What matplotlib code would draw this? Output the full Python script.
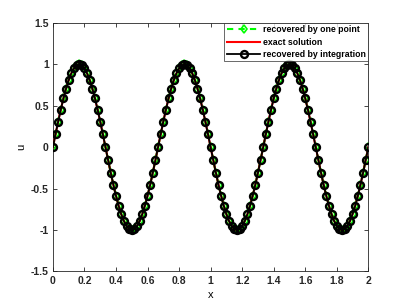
import matplotlib
matplotlib.use("Agg")
import matplotlib.pyplot as plt
import numpy as np

plt.rcParams["font.family"] = ["Liberation Sans", "DejaVu Sans"]
plt.rcParams["font.weight"] = "bold"

# grid: 121 nodes on [0, 2]
x = np.linspace(0.0, 2.0, 121)

# values (one period repeated three times)
u_exact = [
    0.000, 0.156, 0.309, 0.454, 0.588, 0.707, 0.809, 0.891, 0.951, 0.988,
    1.000, 0.988, 0.951, 0.891, 0.809, 0.707, 0.588, 0.454, 0.309, 0.156,
    0.000, -0.156, -0.309, -0.454, -0.588, -0.707, -0.809, -0.891, -0.951, -0.988,
    -1.000, -0.988, -0.951, -0.891, -0.809, -0.707, -0.588, -0.454, -0.309, -0.156,
    0.000, 0.156, 0.309, 0.454, 0.588, 0.707, 0.809, 0.891, 0.951, 0.988,
    1.000, 0.988, 0.951, 0.891, 0.809, 0.707, 0.588, 0.454, 0.309, 0.156,
    0.000, -0.156, -0.309, -0.454, -0.588, -0.707, -0.809, -0.891, -0.951, -0.988,
    -1.000, -0.988, -0.951, -0.891, -0.809, -0.707, -0.588, -0.454, -0.309, -0.156,
    0.000, 0.156, 0.309, 0.454, 0.588, 0.707, 0.809, 0.891, 0.951, 0.988,
    1.000, 0.988, 0.951, 0.891, 0.809, 0.707, 0.588, 0.454, 0.309, 0.156,
    0.000, -0.156, -0.309, -0.454, -0.588, -0.707, -0.809, -0.891, -0.951, -0.988,
    -1.000, -0.988, -0.951, -0.891, -0.809, -0.707, -0.588, -0.454, -0.309, -0.156,
    0.000,
]
u_one_point = list(u_exact)
u_integration = list(u_exact)

x_ticks = [0, 0.2, 0.4, 0.6, 0.8, 1, 1.2, 1.4, 1.6, 1.8, 2]
x_tick_labels = ["0", "0.2", "0.4", "0.6", "0.8", "1", "1.2", "1.4", "1.6", "1.8", "2"]
y_ticks = [-1.5, -1, -0.5, 0, 0.5, 1, 1.5]
y_tick_labels = ["-1.5", "-1", "-0.5", "0", "0.5", "1", "1.5"]

fig = plt.figure(figsize=(4.07, 3.05), dpi=100)
ax = fig.add_axes([0.13, 0.11, 0.775, 0.815])

ax.plot(x, u_one_point, color=(0, 1, 0), linestyle="--", linewidth=1.5,
        marker="d", markersize=4.5, markerfacecolor="none",
        markeredgewidth=1.2, dashes=(3, 2.5),
        label="recovered by one point", zorder=2)
ax.plot(x, u_exact, color="red", linewidth=1.5, label="exact solution", zorder=3)
ax.plot(x, u_integration, color="black", linewidth=1.3, marker="o",
        markersize=5, markerfacecolor="none", markeredgewidth=1.7,
        label="recovered by integration", zorder=4)

ax.set_xlim(0, 2)
ax.set_ylim(-1.5, 1.5)
ax.set_xticks(x_ticks)
ax.set_xticklabels(x_tick_labels)
ax.set_yticks(y_ticks)
ax.set_yticklabels(y_tick_labels)
ax.tick_params(direction="in", length=3, width=0.6, labelsize=7.5,
               top=True, right=True, pad=3, colors="#262626")
for s in ax.spines.values():
    s.set_linewidth(0.6)
    s.set_color("#262626")

ax.set_xlabel("x", fontsize=8, labelpad=3)
ax.set_ylabel("u", fontsize=8, labelpad=3)

leg = ax.legend(loc="upper right", fontsize=6.3, frameon=True, fancybox=False,
                borderaxespad=0, handlelength=3.8, handletextpad=0.3,
                borderpad=0.3, labelspacing=0.35)
leg.get_frame().set_edgecolor("#262626")
leg.get_frame().set_linewidth(0.6)

fig.savefig("out.png", dpi=100)
